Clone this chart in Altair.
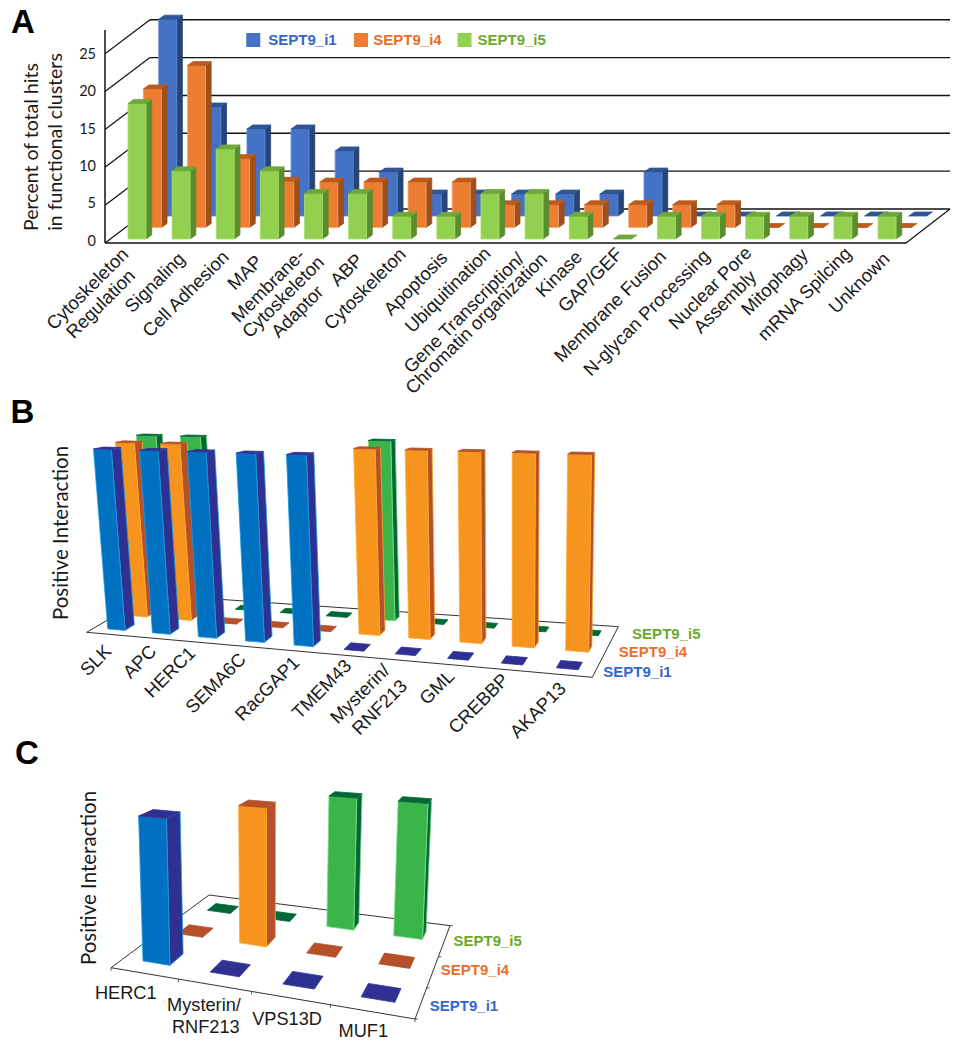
import altair as alt
import pandas as pd

# ---------- Panel A data (percent of total hits) ----------
categories_a = ["Cytoskeleton Regulation", "Signaling", "Cell Adhesion", "MAP",
                "Membrane-Cytoskeleton Adaptor", "ABP", "Cytoskeleton", "Apoptosis",
                "Ubiquitination", "Gene Transcription/Chromatin organization", "Kinase",
                "GAP/GEF", "Membrane Fusion", "N-glycan Processing", "Nuclear Pore Assembly",
                "Mitophagy", "mRNA Spilcing", "Unknown"]
a_i1 = [26, 14.4, 11.5, 11.5, 8.6, 5.8, 2.9, 2.9, 2.9, 2.9, 2.9, 5.8, 0, 0, 0, 0, 0, 0]
a_i4 = [18.3, 21.4, 9.1, 6.1, 6, 6, 6, 6, 3, 3, 3, 3, 3, 3, 0, 0, 0, 0]
a_i5 = [17.9, 9, 11.9, 9, 6, 6, 3, 3, 6, 6, 3, 0, 3, 3, 3, 3, 3, 3]
a_ticks = [0, 5, 10, 15, 20, 25]

# ---------- Panel B data ----------
categories_b = ["SLK", "APC", "HERC1", "SEMA6C", "RacGAP1", "TMEM43",
                "Mysterin/RNF213", "GML", "CREBBP", "AKAP13"]
b_i1 = [1, 1, 1, 1, 1, 0, 0, 0, 0, 0]
b_i4 = [1, 1, 0, 0, 0, 1, 1, 1, 1, 1]
b_i5 = [1, 1, 0, 0, 0, 1, 0, 0, 0, 0]

# ---------- Panel C data ----------
categories_c = ["HERC1", "Mysterin/RNF213", "VPS13D", "MUF1"]
c_i1 = [1, 0, 0, 0]
c_i4 = [0, 1, 0, 0]
c_i5 = [0, 0, 1, 1]

series_names = ["SEPT9_i1", "SEPT9_i4", "SEPT9_i5"]

# ---------- Text lines and where they sit ----------
a_label_lines = ["Cytoskeleton", "Regulation", "Signaling", "Cell Adhesion", "MAP", "Membrane-",
                 "Cytoskeleton", "Adaptor", "ABP", "Cytoskeleton", "Apoptosis", "Ubiquitination",
                 "Gene Transcription/", "Chromatin organization", "Kinase", "GAP/GEF",
                 "Membrane Fusion", "N-glycan Processing", "Nuclear Pore", "Assembly",
                 "Mitophagy", "mRNA Spilcing", "Unknown"]
a_label_at = [(87.5, 289), (100.8, 304), (155, 282.7), (185.8, 294), (245, 272.7), (268.3, 285.7),
              (283.3, 297), (297.5, 311.7), (346.7, 270), (365, 289), (415.7, 283.5), (448, 290),
              (464, 313), (476.5, 323.5), (559, 274), (590.3, 280), (610.3, 306.3), (646.7, 312.7),
              (710.3, 288), (725, 302), (774.7, 282), (804.7, 294), (859.3, 283)]
b_label_lines = ["SLK", "APC", "HERC1", "SEMA6C", "RacGAP1", "TMEM43", "Mysterin/", "RNF213",
                 "GML", "CREBBP", "AKAP13"]
b_label_at = [(95.8, 660.5), (139.7, 661.7), (170, 672.3), (215.7, 683.3), (267.3, 688.7),
              (321.7, 689.3), (360, 694), (379.7, 707.3), (437, 687.3), (478.7, 703.7), (538, 710.3)]
c_label_lines = ["HERC1", "Mysterin/", "RNF213", "VPS13D", "MUF1"]
c_label_at = [(125.8, 993.7), (204, 1006), (205.8, 1028), (287, 1020), (363.3, 1032)]

# ---------- Colours: front, side, top, edge (row 0 is the front row) ----------
style_a = {2: ("#4472C4", "#264478", "#2F5597", "#5F8BD8"),
           1: ("#ED7D31", "#9E4F1B", "#BE5B1C", "#F5A878"),
           0: ("#92D050", "#5B8C2E", "#6FA83A", "#A9E070")}
style_bc = {0: ("#0070C0", "#2E3192", "#2E3192", "#1F9BE0"),
            1: ("#F7941D", "#B5502A", "#B5502A", "#FDA72C"),
            2: ("#39B54A", "#006837", "#006837", "#7BDB85")}

polys, lines = [], []
nface = [0]


def poly(pts, fill, stroke):
    nface[0] += 1
    for k, (x, y) in enumerate(list(pts) + [pts[0]]):
        polys.append(dict(face=f"f{nface[0]:04d}", k=k, x=x, y=y, fill=fill, stroke=stroke))


def seg(a, b, c="#111111", w=1.4):
    nface[0] += 1
    for k, (x, y) in enumerate([a, b]):
        lines.append(dict(seg=f"s{nface[0]:04d}", k=k, x=x, y=y, c=c, w=w))


# ---------- Panel A: oblique projection ----------
A_K = 7.57
for v in a_ticks:
    seg((105, 243 - A_K * v), (150, 209 - A_K * v), w=1.2)
    seg((150, 209 - A_K * v), (950, 209 - A_K * v))
seg((105, 30), (105, 243), w=1.5)
seg((105, 243), (906, 243), w=1.5)
seg((906, 243), (950, 209), w=1.2)
for s, vals in sorted({0: a_i5, 1: a_i4, 2: a_i1}.items(), reverse=True):
    front, side, top, edge = style_a[s]
    for i, val in enumerate(vals):
        x0 = 128 + 44.12 * i + 15.35 * s
        b = 239 - 11.5 * s
        x1 = x0 + 18
        h = b - A_K * val
        if val > 0:
            poly([(x1, b), (x1 + 5.7, b - 4), (x1 + 5.7, h - 4), (x1, h)], side, side)
            poly([(x0, b), (x1, b), (x1, h), (x0, h)], front, edge)
        poly([(x0, h), (x1, h), (x1 + 5.7, h - 4), (x0 + 5.7, h - 4)], top, top)


# ---------- Panels B and C: perspective-like projection ----------
def projector(n, FL, FR, BL, BR, g, x0, kx, y0, dy0, ky):
    def P(u, t, h=0.0):
        fr = u / n
        f = fr * (1 - g * (1 - fr))
        lx, ly = FL[0] + (BL[0] - FL[0]) * t, FL[1] + (BL[1] - FL[1]) * t
        rx, ry = FR[0] + (BR[0] - FR[0]) * t, FR[1] + (BR[1] - FR[1]) * t
        x, y = lx + (rx - lx) * f, ly + (ry - ly) * f
        return (x + h * (x - x0) * kx, y - h * (dy0 + (y - y0) * ky))
    return P


def bars3d(P, rows, widths, depths, tall, data):
    for s in (2, 1, 0):
        front, side, top, edge = style_bc[s]
        t0, t1 = rows[s], rows[s] + depths[s]
        for i, val in enumerate(data[s]):
            u0, u1 = i + 0.5 - widths[s] / 2, i + 0.5 + widths[s] / 2
            h = val * tall[s]
            if val > 0:
                poly([P(u1, t0), P(u1, t1), P(u1, t1, h), P(u1, t0, h)], side, edge)
                poly([P(u0, t0), P(u1, t0), P(u1, t0, h), P(u0, t0, h)], front, edge)
            poly([P(u0, t0, h), P(u1, t0, h), P(u1, t1, h), P(u0, t1, h)], top, top)


PB = projector(10, (86.7, 632.3), (592.3, 677.3), (151, 594.6), (618.3, 626.7),
               0.13, 510, 0.0355, 629, 180, 0.66)
for a, b in [((0, 0), (10, 0)), ((10, 0), (10, 1)), ((10, 1), (0, 1)), ((0, 1), (0, 0))]:
    seg(PB(*a), PB(*b), c="#333333", w=1.0)
bars3d(PB, [0.12, 0.47, 0.80], [0.39, 0.42, 0.45], [0.15, 0.12, 0.10], [1, 1.012, 1.03],
       [b_i1, b_i4, b_i5])

PC = projector(4, (111, 967.7), (415, 1019), (209, 895), (450, 925.7),
               0.15, 268, 0.035, 927, 130.7, 0.42)
for a, b in [((0, 0), (4, 0)), ((4, 0), (4, 1)), ((4, 1), (0, 1)), ((0, 1), (0, 0))]:
    seg(PC(*a), PC(*b), c="#333333", w=1.0)
for u in range(5):
    px, py = PC(u, 0)
    seg((px, py), (px, py + 3), c="#333333", w=0.8)
for t in (0, 1 / 3, 2 / 3, 1):
    px, py = PC(4, t)
    seg((px, py), (px + 3, py), c="#333333", w=0.8)
bars3d(PC, [0.135, 0.505, 0.82], [0.41, 0.41, 0.41], [0.15, 0.12, 0.09], [1, 1, 1],
       [c_i1, c_i4, c_i5])

# ---------- Text tables ----------
tx = []


def add_text(text, x, y, font="Liberation Sans", size=18, weight="normal", angle=0, color="#1a1a1a",
             align="center"):
    tx.append(dict(text=text, x=x, y=y, font=font, size=size, weight=weight, angle=angle, color=color,
                   align=align))


for t, (x, y) in zip(a_label_lines, a_label_at):
    add_text(t, x, y, size=18.5, angle=315)
for t, (x, y) in zip(b_label_lines, b_label_at):
    add_text(t, x, y, size=18.5, angle=315)
for t, (x, y) in zip(c_label_lines, c_label_at):
    add_text(t, x, y, size=18.2)

add_text("Percent of total hits", 32, 147, font="Lato", size=19.5, angle=270)
add_text("in functional clusters", 56, 142, font="Lato", size=19.5, angle=270)
add_text("Positive Interaction", 62, 533, font="Lato", size=20.5, angle=270)
add_text("Positive Interaction", 90, 878, font="Lato", size=20.5, angle=270)
for v in a_ticks:
    add_text(str(v), 96, 241.7 - 7.48 * v, font="Lato", size=14.5, align="right")

col_blue, col_orange, col_green = "#3366CC", "#ED6D2B", "#6AA82E"
for name, x, y, c in [(series_names[0], 302.5, 39.5, col_blue), (series_names[1], 407.5, 39.5, col_orange),
                      (series_names[2], 511.7, 39.5, col_green),
                      (series_names[2], 666.3, 633.7, col_green), (series_names[1], 653, 652.3, col_orange),
                      (series_names[0], 637.5, 672.3, col_blue),
                      (series_names[2], 487.7, 941.3, col_green), (series_names[1], 475, 970.3, col_orange),
                      (series_names[0], 464, 1005.7, col_blue)]:
    add_text(name, x, y, size=15, weight="bold", color=c)

letters = pd.DataFrame(dict(text=["A", "B", "C"], x=[23, 22.5, 27], y=[33, 423, 764]))
legend_sq = pd.DataFrame(dict(x=[253.3, 361, 464.5], y=[40, 40, 40],
                              c=[style_a[2][0], style_a[1][0], style_a[0][0]]))

# ---------- Chart ----------
sx = alt.Scale(domain=[8, 951], range=[0, 943], nice=False, zero=False)
sy = alt.Scale(domain=[1042, 8], range=[1034, 0], nice=False, zero=False)
X = alt.X("x:Q", scale=sx, axis=None)
Y = alt.Y("y:Q", scale=sy, axis=None)

line_layer = alt.Chart(pd.DataFrame(lines)).mark_line().encode(
    x=X, y=Y, detail="seg:N", order="k:Q",
    color=alt.Color("c:N", scale=None),
    strokeWidth=alt.StrokeWidth("w:Q", scale=None))

poly_layer = alt.Chart(pd.DataFrame(polys)).mark_line(strokeWidth=0.8, strokeJoin="round").encode(
    x=X, y=Y, detail="face:N", order="k:Q",
    fill=alt.Fill("fill:N", scale=None),
    stroke=alt.Stroke("stroke:N", scale=None))

square_layer = alt.Chart(legend_sq).mark_square(size=196, opacity=1).encode(
    x=X, y=Y, color=alt.Color("c:N", scale=None))

tdf = pd.DataFrame(tx)
text_layers = []
for (font, weight, align), sub in tdf.groupby(["font", "weight", "align"]):
    text_layers.append(
        alt.Chart(sub).mark_text(font=font, fontWeight=weight, align=align, baseline="middle").encode(
            x=X, y=Y, text="text:N",
            size=alt.Size("size:Q", scale=None),
            angle=alt.Angle("angle:Q", scale=None),
            color=alt.Color("color:N", scale=None)))

letter_layer = alt.Chart(letters).mark_text(font="Liberation Sans", fontWeight="bold", fontSize=33,
                                            align="center", baseline="alphabetic", color="#000000").encode(
    x=X, y=Y, text="text:N")

chart = alt.layer(line_layer, poly_layer, square_layer, *text_layers, letter_layer).properties(
    width=943, height=1034, padding=0, autosize=alt.AutoSizeParams(type="none"), background="white"
).configure_view(stroke=None)

chart.save("out.html", embed_options={"renderer": "svg", "actions": False})
